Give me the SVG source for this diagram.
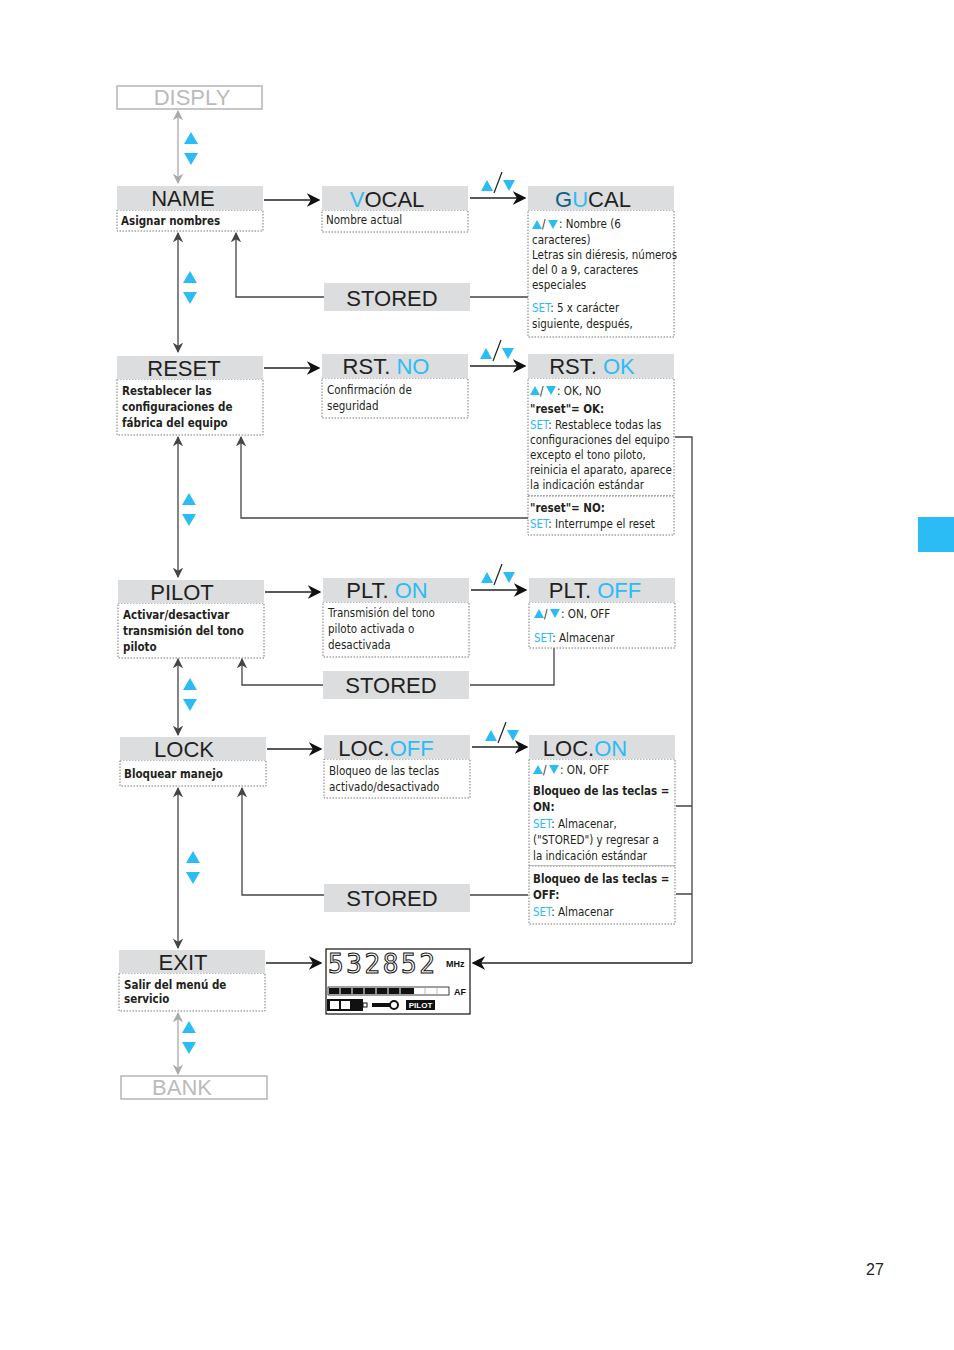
<svg xmlns="http://www.w3.org/2000/svg" width="954" height="1350" viewBox="0 0 954 1350">
<style>
.hd{fill:#dcdddf}
.ds{fill:#fff;stroke:#777;stroke-width:1;stroke-dasharray:1.5 1.5}
.ht{font-family:"Liberation Sans",sans-serif;font-size:22px;fill:#231f20;text-anchor:middle}
.b{fill:#2bbcf5}
.t{font-family:"DejaVu Sans",sans-serif;font-stretch:condensed;font-size:11.5px;fill:#231f20}
.tb{font-family:"DejaVu Sans",sans-serif;font-stretch:condensed;font-size:11.5px;fill:#231f20;font-weight:bold}
.c{fill:none;stroke:#444;stroke-width:1.3}
.g{fill:none;stroke:#aaa;stroke-width:1.3}
.k{fill:none;stroke:#222;stroke-width:1.5}
</style>
<defs>
<marker id="a" viewBox="0 0 10 10" refX="9" refY="5" markerWidth="8" markerHeight="8" orient="auto-start-reverse"><path d="M0,0L10,5L0,10L3,5z" fill="#444"/></marker>
<marker id="ak" viewBox="0 0 10 10" refX="9" refY="5" markerWidth="9" markerHeight="9" orient="auto-start-reverse"><path d="M0,0L10,5L0,10L3,5z" fill="#111"/></marker>
<marker id="ag" viewBox="0 0 10 10" refX="9" refY="5" markerWidth="8" markerHeight="8" orient="auto-start-reverse"><path d="M0,0L10,5L0,10L3,5z" fill="#aaa"/></marker>
<symbol id="ud" viewBox="0 0 16 34" overflow="visible"><path class="b" d="M8,0L15,12H1z"/><path class="b" d="M1,21H15L8,33z"/></symbol>
<symbol id="sl" viewBox="0 0 34 22" overflow="visible"><path class="b" d="M0,19L6,8L12,19z"/><path d="M13,21L21,0" stroke="#222" stroke-width="1.2"/><path class="b" d="M22,8H34L28,19z"/></symbol>
</defs>

<g id="connectors">
<path class="g" d="M178,111V183" marker-start="url(#ag)" marker-end="url(#ag)"/>
<path class="c" d="M178,233V352" marker-start="url(#a)" marker-end="url(#a)"/>
<path class="c" d="M178,437V577" marker-start="url(#a)" marker-end="url(#a)"/>
<path class="c" d="M178,659V735" marker-start="url(#a)" marker-end="url(#a)"/>
<path class="c" d="M178,788V948" marker-start="url(#a)" marker-end="url(#a)"/>
<path class="g" d="M178,1013V1074" marker-start="url(#ag)" marker-end="url(#ag)"/>
<path class="k" d="M264,200H319" marker-end="url(#ak)"/>
<path class="k" d="M470,198H525" marker-end="url(#ak)"/>
<path class="k" d="M264,368H319" marker-end="url(#ak)"/>
<path class="k" d="M470,366H525" marker-end="url(#ak)"/>
<path class="k" d="M265,592H320" marker-end="url(#ak)"/>
<path class="k" d="M471,590H526" marker-end="url(#ak)"/>
<path class="k" d="M267,749H321" marker-end="url(#ak)"/>
<path class="k" d="M472,747H527" marker-end="url(#ak)"/>
<path class="k" d="M266,963H321" marker-end="url(#ak)"/>
<path class="k" d="M692,963H473" marker-end="url(#ak)"/>
<path class="c" d="M528,297H470M324,297H236V233" marker-end="url(#a)"/>
<path class="c" d="M528,518H241V437" marker-end="url(#a)"/>
<path class="c" d="M554,648V685H470M323,685H242V659" marker-end="url(#a)"/>
<path class="c" d="M528,895H470M324,895H242V788" marker-end="url(#a)"/>
<path class="c" d="M675,437H692V963M676,806H692M676,894H692"/>
<use href="#ud" x="183" y="132" width="16" height="34"/>
<use href="#ud" x="182" y="271" width="16" height="34"/>
<use href="#ud" x="181" y="493" width="16" height="34"/>
<use href="#ud" x="182" y="678" width="16" height="34"/>
<use href="#ud" x="185" y="851" width="16" height="34"/>
<use href="#ud" x="181" y="1021" width="16" height="34"/>
<use href="#sl" x="481" y="172" width="34" height="22"/>
<use href="#sl" x="480" y="340" width="34" height="22"/>
<use href="#sl" x="481" y="564" width="34" height="22"/>
<use href="#sl" x="485" y="722" width="34" height="22"/>
</g>

<g id="disply"><rect x="117" y="86" width="145" height="23" fill="#fff" stroke="#aaa" stroke-width="1.3"/><text class="ht" x="192" y="105" fill="#bbb" style="fill:#bbb">DISPLY</text></g>

<g id="name"><rect class="ds" x="117" y="210" width="146" height="21"/><rect class="hd" x="117" y="186" width="146" height="24"/><text class="ht" x="183" y="206">NAME</text><text class="tb" x="121" y="225">Asignar nombres</text></g>

<g id="vocal"><rect class="ds" x="322" y="210" width="146" height="22"/><rect class="hd" x="322" y="186" width="146" height="24"/><text class="ht" x="387" y="207"><tspan fill="#2bbcf5">V</tspan>OCAL</text><text class="t" x="326" y="224">Nombre actual</text></g>

<g id="gucal"><rect class="ds" x="528" y="210" width="146" height="127"/><rect class="hd" x="528" y="186" width="146" height="24"/><text class="ht" x="593" y="207"><tspan fill="#0d5f8c">G</tspan><tspan fill="#2bbcf5">U</tspan>CAL</text>
<path class="b" d="M532,229L537,220L542,229z M548,220H558L553,229z"/><text class="t" x="542" y="228">/</text>
<text class="t" x="559" y="228">: Nombre  (6</text>
<text class="t" x="532" y="244">caracteres)</text>
<text class="t" x="532" y="259" font-size="10.5">Letras sin diéresis, números</text>
<text class="t" x="532" y="274" font-size="10.5">del 0 a 9, caracteres</text>
<text class="t" x="532" y="289" font-size="10.5">especiales</text>
<text class="t" x="532" y="312"><tspan fill="#2bbcf5">SET</tspan>: 5 x carácter</text>
<text class="t" x="532" y="328">siguiente, después,</text></g>

<g id="stored1"><rect class="hd" x="324" y="283" width="146" height="28"/><text class="ht" x="392" y="306">STORED</text></g>

<g id="reset"><rect class="ds" x="117" y="379" width="146" height="56"/><rect class="hd" x="117" y="356" width="146" height="23"/><text class="ht" x="184" y="376">RESET</text>
<text class="tb" x="122" y="395">Restablecer las</text><text class="tb" x="122" y="411">configuraciones de</text><text class="tb" x="122" y="427">fábrica del equipo</text></g>

<g id="rstno"><rect class="ds" x="322" y="378" width="146" height="40"/><rect class="hd" x="322" y="354" width="146" height="24"/><text class="ht" x="386" y="374">RST. <tspan fill="#2bbcf5">NO</tspan></text>
<text class="t" x="327" y="394">Confirmación de</text><text class="t" x="327" y="410">seguridad</text></g>

<g id="rstok"><rect class="ds" x="528" y="378" width="146" height="118"/><rect class="ds" x="528" y="496" width="146" height="39"/><rect class="hd" x="528" y="354" width="146" height="24"/><text class="ht" x="592" y="374">RST. <tspan fill="#2bbcf5">OK</tspan></text>
<path class="b" d="M530,395L535,386L540,395z M546,386H556L551,395z"/><text class="t" x="540" y="395">/</text><text class="t" x="557" y="395">: OK, NO</text>
<text class="tb" x="530" y="413">"reset"= OK:</text>
<text class="t" x="530" y="429"><tspan fill="#2bbcf5">SET</tspan>: Restablece todas las</text>
<text class="t" x="530" y="444" font-size="11">configuraciones del equipo</text>
<text class="t" x="530" y="459" font-size="11">excepto el tono piloto,</text>
<text class="t" x="530" y="474" font-size="11">reinicia el aparato, aparece</text>
<text class="t" x="530" y="489" font-size="11">la indicación estándar</text>
<text class="tb" x="530" y="512">"reset"= NO:</text>
<text class="t" x="530" y="528"><tspan fill="#2bbcf5">SET</tspan>: Interrumpe el reset</text></g>

<g id="pilot"><rect class="ds" x="118" y="603" width="146" height="55"/><rect class="hd" x="118" y="580" width="146" height="23"/><text class="ht" x="182" y="600">PILOT</text>
<text class="tb" x="123" y="619">Activar/desactivar</text><text class="tb" x="123" y="635">transmisión del tono</text><text class="tb" x="123" y="651">piloto</text></g>

<g id="plton"><rect class="ds" x="323" y="602" width="146" height="55"/><rect class="hd" x="323" y="578" width="146" height="24"/><text class="ht" x="387" y="598">PLT.  <tspan fill="#2bbcf5">ON</tspan></text>
<text class="t" x="328" y="617">Transmisión del tono</text><text class="t" x="328" y="633">piloto activada o</text><text class="t" x="328" y="649">desactivada</text></g>

<g id="pltoff"><rect class="ds" x="529" y="602" width="146" height="46"/><rect class="hd" x="529" y="578" width="146" height="24"/><text class="ht" x="595" y="598">PLT.  <tspan fill="#2bbcf5">OFF</tspan></text>
<path class="b" d="M534,618L539,609L544,618z M550,609H560L555,618z"/><text class="t" x="544" y="618">/</text><text class="t" x="561" y="618">: ON, OFF</text>
<text class="t" x="534" y="642"><tspan fill="#2bbcf5">SET</tspan>: Almacenar</text></g>

<g id="stored2"><rect class="hd" x="323" y="671" width="146" height="28"/><text class="ht" x="391" y="693">STORED</text></g>

<g id="lock"><rect class="ds" x="120" y="760" width="146" height="26"/><rect class="hd" x="120" y="737" width="146" height="23"/><text class="ht" x="184" y="757">LOCK</text>
<text class="tb" x="124" y="778">Bloquear manejo</text></g>

<g id="locoff"><rect class="ds" x="324" y="759" width="146" height="39"/><rect class="hd" x="324" y="735" width="146" height="24"/><text class="ht" x="386" y="756">LOC.<tspan fill="#2bbcf5">OFF</tspan></text>
<text class="t" x="329" y="775">Bloqueo de las teclas</text><text class="t" x="329" y="791">activado/desactivado</text></g>

<g id="locon"><rect class="ds" x="529" y="759" width="146" height="107"/><rect class="ds" x="529" y="866" width="146" height="58"/><rect class="hd" x="529" y="735" width="146" height="24"/><text class="ht" x="585" y="756">LOC.<tspan fill="#2bbcf5">ON</tspan></text>
<path class="b" d="M533,774L538,765L543,774z M549,765H559L554,774z"/><text class="t" x="543" y="774">/</text><text class="t" x="560" y="774">: ON, OFF</text>
<text class="tb" x="533" y="795">Bloqueo de las teclas =</text><text class="tb" x="533" y="811">ON:</text>
<text class="t" x="533" y="828"><tspan fill="#2bbcf5">SET</tspan>: Almacenar,</text>
<text class="t" x="533" y="844">("STORED") y regresar a</text>
<text class="t" x="533" y="860">la indicación estándar</text>
<text class="tb" x="533" y="883">Bloqueo de las teclas =</text><text class="tb" x="533" y="899">OFF:</text>
<text class="t" x="533" y="916"><tspan fill="#2bbcf5">SET</tspan>: Almacenar</text></g>

<g id="stored3"><rect class="hd" x="324" y="884" width="146" height="28"/><text class="ht" x="392" y="906">STORED</text></g>

<g id="exit"><rect class="ds" x="119" y="973" width="146" height="38"/><rect class="hd" x="119" y="950" width="146" height="23"/><text class="ht" x="183" y="970">EXIT</text>
<text class="tb" x="124" y="989">Salir del menú de</text><text class="tb" x="124" y="1003">servicio</text></g>

<g id="display"><rect x="326" y="949" width="144" height="65" fill="#fff" stroke="#111" stroke-width="1.2"/>
<text x="328" y="973" font-family="DejaVu Sans Mono,monospace" font-size="26" fill="#fff" stroke="#111" stroke-width="1" letter-spacing="1" textLength="108">532852</text>
<text x="446" y="967" font-family="Liberation Sans,sans-serif" font-size="9" font-weight="bold" fill="#111">MHz</text>
<rect x="328" y="987" width="121" height="8" fill="#fff" stroke="#111" stroke-width="0.8"/>
<rect x="329" y="988" width="85" height="6" fill="#111"/>
<path d="M340,988V994M352,988V994M364,988V994M376,988V994M388,988V994M400,988V994" stroke="#fff" stroke-width="1"/>
<path d="M425,988V994M437,988V994" stroke="#bbb" stroke-width="1"/>
<text x="454" y="995" font-family="Liberation Sans,sans-serif" font-size="9" font-weight="bold" fill="#111">AF</text>
<rect x="327" y="999" width="36" height="12" fill="#111"/><rect x="330" y="1001" width="9" height="8" fill="#fff"/><rect x="341" y="1001" width="9" height="8" fill="#fff"/><rect x="363" y="1003" width="4" height="4" fill="#fff" stroke="#111"/>
<rect x="372" y="1003" width="18" height="4" fill="#111"/><circle cx="394" cy="1005" r="4" fill="#fff" stroke="#111" stroke-width="2"/>
<rect x="406" y="1000" width="29" height="10" fill="#111"/><text x="420.5" y="1008" font-family="Liberation Sans,sans-serif" font-size="8" font-weight="bold" fill="#fff" text-anchor="middle">PILOT</text></g>

<g id="bank"><rect x="121" y="1076" width="146" height="23" fill="#fff" stroke="#aaa" stroke-width="1.3"/><text class="ht" x="182" y="1095" style="fill:#bbb">BANK</text></g>

<rect x="918" y="517" width="36" height="35" fill="#2bbcf5"/>
<text x="875" y="1275" font-family="Liberation Sans,sans-serif" font-size="16" fill="#231f20" text-anchor="middle">27</text>
</svg>
